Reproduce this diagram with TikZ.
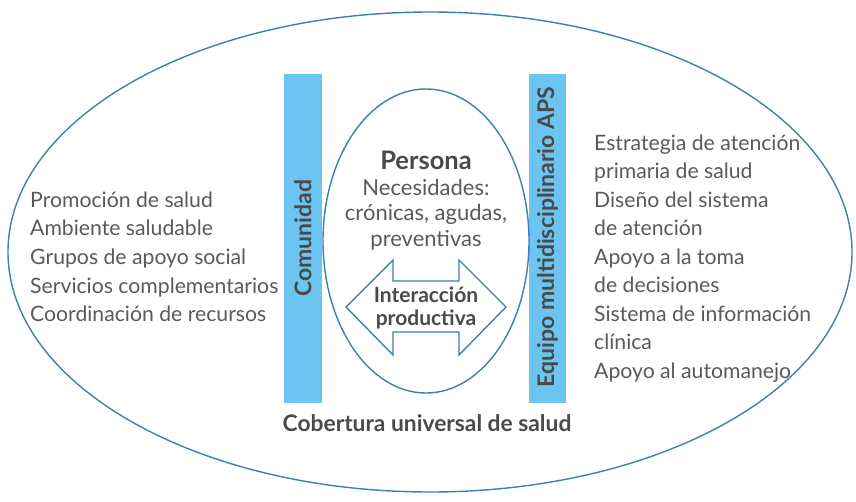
\documentclass[tikz,border=0pt]{standalone}
\usepackage{fontspec}
\setmainfont{Lato}
\usetikzlibrary{shapes.geometric}
\definecolor{barblue}{HTML}{6CC5F0}
\definecolor{lineblue}{HTML}{3D7FB8}
\definecolor{txtgray}{HTML}{5A5A5A}
\definecolor{boldgray}{HTML}{4A4A4A}
\begin{document}
\begin{tikzpicture}[x=1pt,y=-1pt,
  every node/.style={text=txtgray, inner sep=0pt},
  listtxt/.style={font=\fontsize{21.2}{25}\selectfont, anchor=base west},
  midtxt/.style={font=\fontsize{22}{25}\selectfont, anchor=base},
  bartxt/.style={font=\bfseries\fontsize{23}{26}\selectfont, text=boldgray, rotate=90},
  bar/.style={fill=barblue, draw=none},
  ring/.style={draw=lineblue, line width=1.4pt}]
\useasboundingbox (0,0) rectangle (856,501);
\fill[white] (0,0) rectangle (856,501);
% outer ellipse
\node[ring, ellipse, minimum width=844pt, minimum height=480pt, inner sep=0pt] (outer) at (430,252) {};
% bars
\path[bar] (284,74) rectangle (322,403);
\path[bar] (529,74) rectangle (566,403);
\coordinate (lbar) at (303,238);
\coordinate (rbar) at (547.5,237);
\node[bartxt] (comunidad) at (lbar) {Comunidad};
\node[bartxt] (equipo) at (rbar) {Equipo multidisciplinario APS};
% inner ellipse
\node[ring, ellipse, minimum width=206pt, minimum height=304pt] (inner) at (426,241) {};
% person text
\node[font=\bfseries\fontsize{25.5}{28}\selectfont, text=boldgray, anchor=base] (persona) at (426,169) {Persona};
\node[midtxt] (nec1) at (426,195) {Necesidades:};
\node[midtxt] (nec2) at (426,220.5) {crónicas, agudas,};
\node[midtxt] (nec3) at (426,246) {preventivas};
% double arrow
\draw[ring, line join=miter, fill=white] (346,307) -- (393,260) -- (393,281) -- (459,281) -- (459,260) -- (506,307)
  -- (459,355) -- (459,332) -- (393,332) -- (393,355) -- cycle;
\node[font=\bfseries\fontsize{21}{24}\selectfont, text=boldgray, anchor=base] (inter1) at (426,302) {Interacción};
\node[font=\bfseries\fontsize{21}{24}\selectfont, text=boldgray, anchor=base] (inter2) at (426,325) {productiva};
% bottom
\node[font=\bfseries\fontsize{22.8}{26}\selectfont, text=boldgray, anchor=base] (cobertura) at (427,431) {Cobertura universal de salud};
% left list
\node[listtxt] (l1) at (30,207) {Promoción de salud};
\node[listtxt] (l2) at (30,235.7) {Ambiente saludable};
\node[listtxt] (l3) at (30,264.4) {Grupos de apoyo social};
\node[listtxt] (l4) at (30,293.1) {Servicios complementarios};
\node[listtxt] (l5) at (30,321.8) {Coordinación de recursos};
% right list
\node[listtxt] (r1) at (594,150) {Estrategia de atención};
\node[listtxt] (r2) at (594,178.5) {primaria de salud};
\node[listtxt] (r3) at (594,207) {Diseño del sistema};
\node[listtxt] (r4) at (594,235.5) {de atención};
\node[listtxt] (r5) at (594,264) {Apoyo a la toma};
\node[listtxt] (r6) at (594,292.5) {de decisiones};
\node[listtxt] (r7) at (594,321) {Sistema de información};
\node[listtxt] (r8) at (594,349.5) {clínica};
\node[listtxt] (r9) at (594,378) {Apoyo al automanejo};
\end{tikzpicture}
\end{document}
